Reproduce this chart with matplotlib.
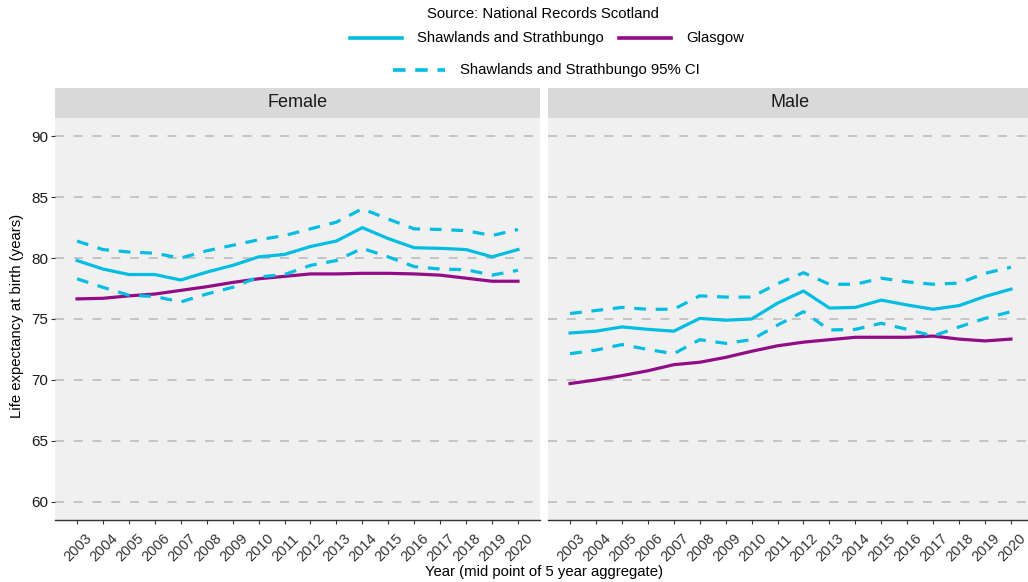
import matplotlib
matplotlib.use("Agg")
import matplotlib.pyplot as plt
import matplotlib.transforms as mtransforms
from matplotlib.lines import Line2D

plt.rcParams['font.family'] = ['Liberation Sans', 'DejaVu Sans']
plt.rcParams['lines.scale_dashes'] = False

years = list(range(2003, 2021))

# Female
f_area = [79.8, 79.1, 78.65, 78.65, 78.2, 78.85, 79.4, 80.1, 80.3, 80.95, 81.4, 82.5,
          81.6, 80.85, 80.8, 80.7, 80.1, 80.7]
f_upper = [81.4, 80.7, 80.5, 80.4, 80.0, 80.6, 81.05, 81.5, 81.85, 82.4, 82.95, 84.05,
           83.2, 82.4, 82.35, 82.25, 81.85, 82.35]
f_lower = [78.3, 77.6, 76.95, 76.85, 76.4, 77.05, 77.6, 78.45, 78.65, 79.4, 79.8, 80.8,
           80.1, 79.3, 79.1, 79.05, 78.6, 79.0]
f_glasgow = [76.65, 76.7, 76.9, 77.05, 77.35, 77.65, 78.0, 78.3, 78.5, 78.7, 78.7, 78.75,
             78.75, 78.7, 78.6, 78.35, 78.1, 78.1]

# Male
m_area = [73.85, 74.0, 74.35, 74.15, 74.0, 75.05, 74.9, 75.0, 76.3, 77.3, 75.9, 75.95,
          76.55, 76.15, 75.8, 76.1, 76.85, 77.45]
m_upper = [75.45, 75.7, 75.95, 75.8, 75.8, 76.9, 76.8, 76.8, 77.9, 78.8, 77.85, 77.85,
           78.35, 78.05, 77.85, 77.95, 78.75, 79.25]
m_lower = [72.15, 72.45, 72.9, 72.5, 72.15, 73.3, 73.0, 73.3, 74.5, 75.6, 74.1, 74.15,
           74.65, 74.15, 73.6, 74.35, 75.05, 75.6]
m_glasgow = [69.7, 70.0, 70.35, 70.75, 71.25, 71.45, 71.85, 72.35, 72.8, 73.1, 73.3, 73.5,
             73.5, 73.5, 73.6, 73.35, 73.2, 73.35]

panels = [("Female", f_area, f_lower, f_upper, f_glasgow),
          ("Male", m_area, m_lower, m_upper, m_glasgow)]

area_name = "Shawlands and Strathbungo"
ci_name = "Shawlands and Strathbungo 95% CI"
comp_name = "Glasgow"
source = "Source: National Records Scotland"

CYAN = "#00bde1"
PURPLE = "#920b87"
FS = 10.7

W, H = 1028, 582
fig = plt.figure(figsize=(W / 100, H / 100), dpi=100)


def rect(x0, y0, x1, y1):
    return [x0 / W, 1 - y1 / H, (x1 - x0) / W, (y1 - y0) / H]


panel_x = [(55, 540), (548, 1033)]
for i, (name, area, lower, upper, comp) in enumerate(panels):
    x0, x1 = panel_x[i]
    ax = fig.add_axes(rect(x0, 118, x1, 520))
    strip = fig.add_axes(rect(x0, 88, x1, 118))
    strip.set_facecolor("#d9d9d9")
    strip.set_xticks([])
    strip.set_yticks([])
    for s in strip.spines.values():
        s.set_visible(False)
    strip.text(0.5, 0.5, name, ha="center", va="center", fontsize=13, color="#1a1a1a",
               transform=strip.transAxes)

    ax.set_facecolor("#f0f0f0")
    for yv in range(60, 91, 5):
        ax.axhline(yv, color="#c4c4c4", lw=1.4, dashes=(6.5, 7), zorder=1)
    ax.plot(years, comp, color=PURPLE, lw=2.3, zorder=3)
    ax.plot(years, area, color=CYAN, lw=2.3, zorder=4)
    ax.plot(years, upper, color=CYAN, lw=2.3, dashes=(8.5, 7), zorder=4)
    ax.plot(years, lower, color=CYAN, lw=2.3, dashes=(8.5, 7), zorder=4)

    ax.set_xlim(2003 - 0.85, 2020 + 0.85)
    ax.set_ylim(58.5, 91.5)
    ax.set_xticks(years)
    ax.set_xticklabels([])
    # rotated year labels, placed like ggplot's angle = 45
    lab_tr = ax.get_xaxis_transform() + mtransforms.ScaledTranslation(
        0.125, -0.165, fig.dpi_scale_trans)
    for y in years:
        ax.text(y, 0, str(y), rotation=45, ha="right", va="center",
                rotation_mode="anchor", fontsize=10.5, color="#333333",
                transform=lab_tr, clip_on=False)
    ax.tick_params(axis="x", length=3, width=0.8, color="#333333", pad=2)
    if i == 0:
        ax.set_yticks(range(60, 91, 5))
        ax.tick_params(axis="y", length=3, width=0.8, color="#333333", labelsize=11,
                       labelcolor="#1a1a1a", pad=2)
    else:
        ax.set_yticks([])
    for side in ["top", "right", "left"]:
        ax.spines[side].set_visible(False)
    ax.spines["bottom"].set_color("#333333")
    ax.spines["bottom"].set_linewidth(1.0)

fig.text(17 / W, 1 - 316 / H, "Life expectancy at birth (years)", rotation=90,
         ha="center", va="center", fontsize=FS, color="#000000")
fig.text(544 / W, 1 - 572 / H, "Year (mid point of 5 year aggregate)",
         ha="center", va="center", fontsize=FS, color="#000000")

# legend at the top
fig.text(543 / W, 1 - 14 / H, source, ha="center", va="center", fontsize=FS)


def key(xa, xb, y, color, dashes=None):
    ln = Line2D([xa / W, xb / W], [1 - y / H, 1 - y / H], transform=fig.transFigure,
                color=color, lw=2.6)
    if dashes:
        ln.set_dashes(dashes)
    fig.add_artist(ln)


key(350, 402, 38, CYAN)
fig.text(417 / W, 1 - 38 / H, area_name, ha="left", va="center", fontsize=FS)
key(619, 671, 38, PURPLE)
fig.text(686 / W, 1 - 38 / H, comp_name, ha="left", va="center", fontsize=FS)
key(393, 445, 70, CYAN, dashes=(9, 7))
fig.text(460 / W, 1 - 70 / H, ci_name, ha="left", va="center", fontsize=FS)

fig.savefig("out.png", dpi=100)
